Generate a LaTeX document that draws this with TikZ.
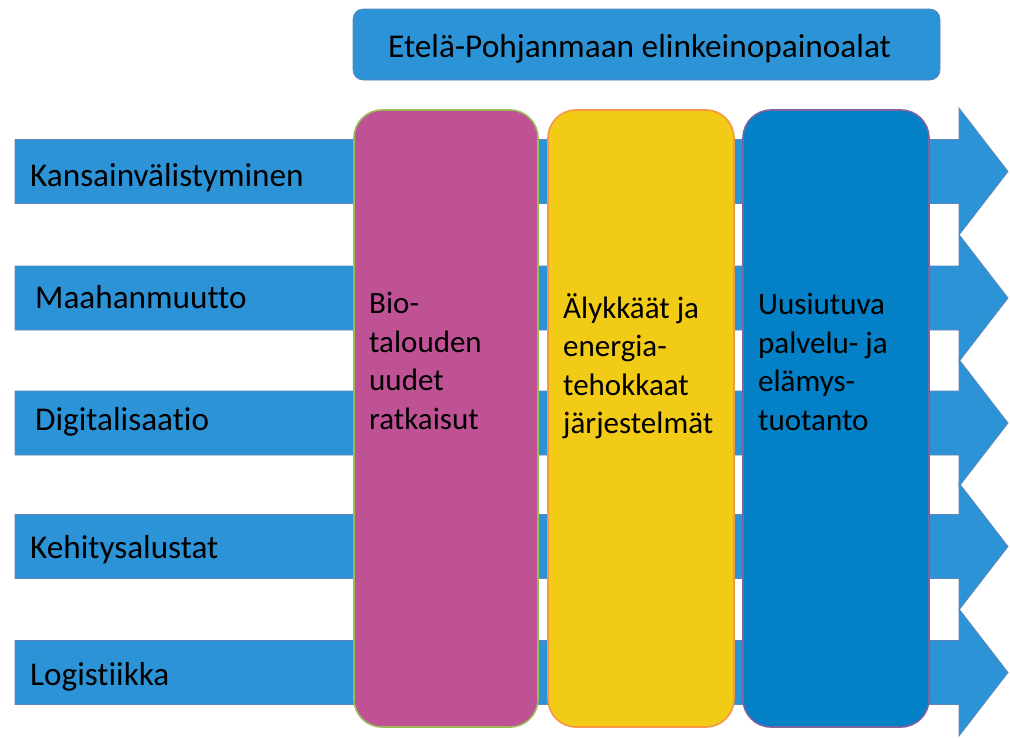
\documentclass[tikz,border=0pt]{standalone}
\usepackage{fontspec}
\setmainfont{Carlito}[Ligatures=NoCommon]
\definecolor{arrowblue}{HTML}{2B93D6}
\definecolor{arrowedge}{HTML}{5F86B8}
\definecolor{pinkfill}{HTML}{BE5295}
\definecolor{pinkedge}{HTML}{9BBB59}
\definecolor{yellowfill}{HTML}{F1CB16}
\definecolor{yellowedge}{HTML}{F79646}
\definecolor{bluefill}{HTML}{0380C6}
\definecolor{blueedge}{HTML}{8064A2}
\begin{document}
\begin{tikzpicture}[x=1pt,y=-1pt,
  arrowshape/.style={fill=arrowblue, draw=arrowedge, line width=0.8pt, line join=miter},
  rowlabel/.style={anchor=base west, inner sep=0pt, font=\fontsize{33.2}{38}\selectfont},
  column/.style={rounded corners=28pt, line width=1.6pt},
  coltext/.style={anchor=north west, inner sep=0pt, align=left, font=\fontsize{31}{38.5}\selectfont},
  header/.style={fill=arrowblue, draw=arrowedge, line width=0.6pt, rounded corners=10pt}]
\useasboundingbox (0,0) rectangle (1010,737);
% arrows
\foreach \c in {171.5,298,423,546.5,672.5}{
  \draw[arrowshape] (15,\c-32) -- (959,\c-32) -- (959,\c-63.5) -- (1008,\c) -- (959,\c+63.5) -- (959,\c+32) -- (15,\c+32) -- cycle;
}
\node[rowlabel] (k) at (30,186) {Kansainvälistyminen};
\node[rowlabel] (m) at (35,308) {Maahanmuutto};
\node[rowlabel] (d) at (35,430) {Digitalisaatio};
\node[rowlabel] (ke) at (30,558) {Kehitysalustat};
\node[rowlabel] (l) at (30,685) {Logistiikka};
% header
\draw[header] (353,9) rectangle (940,80);
\node[anchor=base west, inner sep=0pt, font=\fontsize{33.3}{38}\selectfont] (h) at (388,57) {Etelä-Pohjanmaan elinkeinopainoalat};
% columns
\draw[column, fill=pinkfill, draw=pinkedge] (354,110) rectangle (538,727);
\draw[column, fill=yellowfill, draw=yellowedge] (548,110) rectangle (734,727);
\draw[column, fill=bluefill, draw=blueedge] (743,110) rectangle (929,727);
\node[coltext] (c1) at (369,292) {Bio-\\talouden\\uudet\\ratkaisut};
\node[coltext] (c2) at (563,293) {Älykkäät ja\\energia-\\tehokkaat\\järjestelmät};
\node[coltext] (c3) at (758,293) {Uusiutuva\\palvelu- ja\\elämys-\\tuotanto};
\end{tikzpicture}
\end{document}
